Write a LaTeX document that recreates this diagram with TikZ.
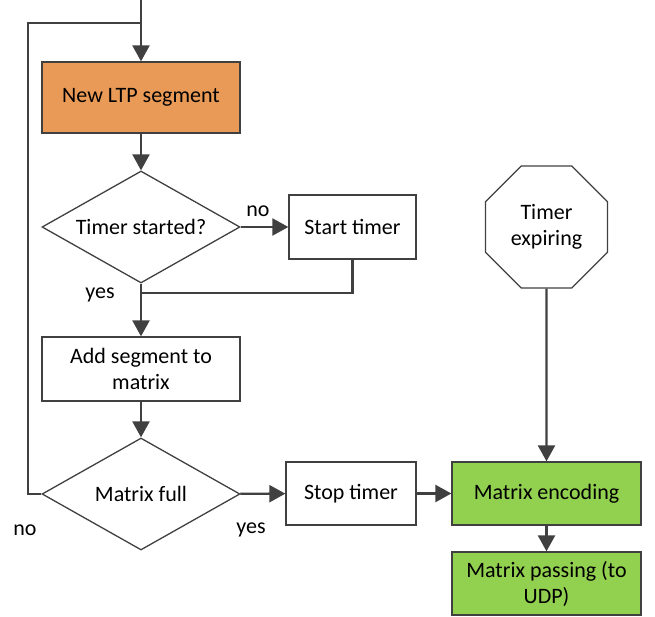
\documentclass[tikz,border=0pt]{standalone}
\usepackage{fontspec}
\setmainfont{Carlito}
\usetikzlibrary{shapes.geometric,arrows.meta}
\definecolor{ltporange}{HTML}{E99A57}
\definecolor{encgreen}{HTML}{92D050}
\definecolor{flowgray}{HTML}{404040}
\newcommand{\flowfont}{\fontsize{22}{26}\selectfont}
\begin{document}
\begin{tikzpicture}[x=1pt, y=-1pt,
    box/.style={draw=flowgray, line width=1.3pt, align=center, inner sep=0pt, font=\flowfont},
    decision/.style={box, diamond, aspect=1.77, minimum width=198pt, minimum height=112pt},
    line/.style={draw=flowgray, line width=2.4pt},
    flow/.style={line, -{Triangle[length=16pt,width=17pt]}},
    lbl/.style={font=\flowfont, inner sep=0pt}]
    \useasboundingbox (0,0) rectangle (655,617);
    \node[box, fill=ltporange, minimum width=198pt, minimum height=71pt] (ltp) at (141,97.5) {New LTP segment};
    \node[decision] (started) at (141,227) {Timer started?};
    \node[box, minimum width=127pt, minimum height=64pt] (starttimer) at (352.5,227) {Start timer};
    \node[box, minimum width=198pt, minimum height=64pt] (addseg) at (141,369) {Add segment to\\matrix};
    \node[decision] (full) at (141,494) {Matrix full};
    \node[box, minimum width=130pt, minimum height=63pt] (stoptimer) at (351,493.5) {Stop timer};
    \node[box, fill=encgreen, minimum width=189pt, minimum height=63pt] (encode) at (546.5,493.5) {Matrix encoding};
    \node[box, fill=encgreen, minimum width=189pt, minimum height=63pt] (passing) at (546.5,583.5) {Matrix passing (to\\UDP)};
    \node[box, regular polygon, regular polygon sides=8, minimum size=132pt] (expire) at (546.5,227) {Timer\\expiring};
    \node[lbl] (nostarted) at (258,211) {no};
    \node[lbl] (yesstarted) at (100,295) {yes};
    \node[lbl] (nofull) at (25,530) {no};
    \node[lbl] (yesfull) at (251,530) {yes};
    \coordinate (in) at (141,0);
    \coordinate (join) at (141,23);
    \coordinate (looptop) at (28,23);
    \coordinate (loopbot) at (28,494);
    \coordinate (merge) at (141,293);
    \draw[flow] (in) -- (ltp);
    \draw[line] (full.west) -- (loopbot) -- (looptop) -- (join);
    \draw[flow] (ltp) -- (started);
    \draw[flow] (started) -- (starttimer);
    \draw[line] (starttimer.south) |- (merge);
    \draw[flow] (started) -- (addseg);
    \draw[flow] (addseg) -- (full);
    \draw[flow] (full) -- (stoptimer);
    \draw[flow] (stoptimer) -- (encode);
    \draw[flow] (encode) -- (passing);
    \draw[flow] (expire) -- (encode);
\end{tikzpicture}
\end{document}
